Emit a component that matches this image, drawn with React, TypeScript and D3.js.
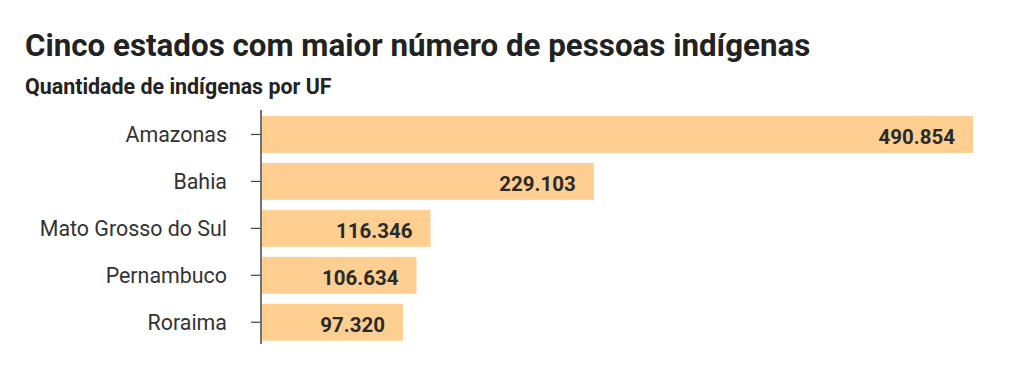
import React from "react";
import * as d3 from "d3";

const categories = ["Amazonas", "Bahia", "Mato Grosso do Sul", "Pernambuco", "Roraima"];
const values = [490854, 229103, 116346, 106634, 97320];
const valueLabels = ["490.854", "229.103", "116.346", "106.634", "97.320"];

const W = 1024;
const H = 376;
const margin = { left: 262, right: 51, top: 111.3, bottom: 30.6 };

export default function App() {
  const x = d3.scaleLinear().domain([0, d3.max(values) as number]).range([margin.left, W - margin.right]);
  const y = d3
    .scaleBand<string>()
    .domain(categories)
    .range([margin.top, H - margin.bottom])
    .paddingInner(0.213)
    .paddingOuter(0.1);
  const font = "Roboto, 'Noto Sans', sans-serif";
  return (
    <svg width={W} height={H} style={{ position: "absolute", left: 0, top: 0, background: "#fff" }} fontFamily={font}>
      <text x={25} y={56} fontSize={31.3} fontWeight={700} fill="#222">
        Cinco estados com maior número de pessoas indígenas
      </text>
      <text x={25} y={94} fontSize={21.4} fontWeight={700} fill="#222">
        Quantidade de indígenas por UF
      </text>
      {categories.map((c, i) => {
        const yy = y(c) as number;
        const bw = y.bandwidth();
        return (
          <g key={c}>
            <rect x={x(0)} y={yy} width={x(values[i]) - x(0)} height={bw} fill="#fecf91" />
            <text
              x={x(values[i]) - 18}
              y={yy + bw / 2 + 10}
              textAnchor="end"
              fontSize={20.5}
              fontWeight={700}
              fill="#2a2a2a"
            >
              {valueLabels[i]}
            </text>
            <line x1={251} x2={261} y1={yy + bw / 2} y2={yy + bw / 2} stroke="#444" strokeWidth={1.2} />
            <text x={227} y={yy + bw / 2 + 7.5} textAnchor="end" fontSize={21.4} fill="#333">
              {c}
            </text>
          </g>
        );
      })}
      <line x1={261} x2={261} y1={110} y2={344} stroke="#444" strokeWidth={1.5} />
    </svg>
  );
}
